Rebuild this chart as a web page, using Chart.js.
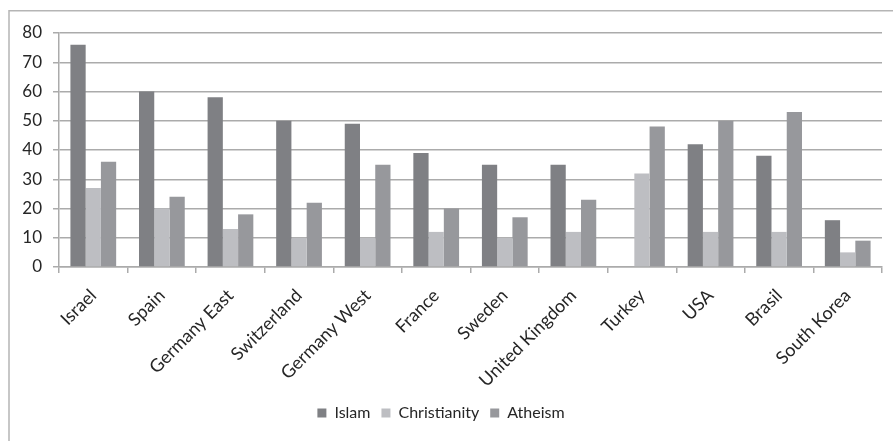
<!DOCTYPE html>
<html>
<head>
<meta charset="utf-8">
<script src="https://cdn.jsdelivr.net/npm/chart.js@4/dist/chart.umd.min.js"></script>
<style>
  html, body { margin: 0; padding: 0; background: #ffffff; }
  #wrap { position: relative; width: 893px; height: 441px; }
  canvas { display: block; }
</style>
</head>
<body>
<div id="wrap"><canvas id="chart" width="893" height="441"></canvas></div>
<script>
// Countries on the category axis
const countries = ['Israel', 'Spain', 'Germany East', 'Switzerland', 'Germany West', 'France',
                   'Sweden', 'United Kingdom', 'Turkey', 'USA', 'Brasil', 'South Korea'];

// Series values per country
const islam        = [76, 60, 58, 50, 49, 39, 35, 35, null, 42, 38, 16];
const christianity = [27, 20, 13, 10, 10, 12, 10, 12, 32, 12, 12, 5];
const atheism      = [36, 24, 18, 22, 35, 20, 17, 23, 48, 50, 53, 9];

// Value axis range
const yMin = 0;
const yMax = 80;
const yStep = 10;

const FONT = 'Lato, "Open Sans", "Liberation Sans", sans-serif';
const TEXT = '#262626';
const GRID = '#ababab';

// Frame around the whole chart
const framePlugin = {
  id: 'frame',
  beforeDraw(chart) {
    const ctx = chart.ctx;
    ctx.save();
    ctx.fillStyle = '#ffffff';
    ctx.fillRect(0, 0, chart.width, chart.height);
    ctx.strokeStyle = '#b5b5b5';
    ctx.lineWidth = 1.5;
    ctx.strokeRect(9, 10.75, chart.width + 20, chart.height + 20);
    ctx.restore();
  }
};

new Chart(document.getElementById('chart'), {
  type: 'bar',
  data: {
    labels: countries,
    datasets: [
      { label: 'Islam',        data: islam,        backgroundColor: '#7f8084' },
      { label: 'Christianity', data: christianity, backgroundColor: '#bdbec2' },
      { label: 'Atheism',      data: atheism,      backgroundColor: '#97989c' }
    ]
  },
  options: {
    responsive: false,
    animation: false,
    devicePixelRatio: 1,
    layout: { padding: { top: 33, right: 11, bottom: 10, left: 0 } },
    datasets: {
      bar: { categoryPercentage: 0.667, barPercentage: 1.0, borderWidth: 0 }
    },
    plugins: {
      tooltip: { enabled: false },
      legend: {
        position: 'bottom',
        labels: {
          boxWidth: 9,
          boxHeight: 9,
          padding: 11,
          color: TEXT,
          font: { family: FONT, size: 16 }
        }
      }
    },
    scales: {
      x: {
        grid: {
          offset: true,
          drawOnChartArea: false,
          drawTicks: true,
          tickLength: 6,
          color: GRID,
          lineWidth: 1.5
        },
        border: { display: true, color: GRID, width: 1.5 },
        ticks: {
          maxRotation: 45,
          minRotation: 45,
          autoSkip: false,
          padding: 12,
          color: TEXT,
          font: { family: FONT, size: 18 }
        },
        afterFit(scale) { scale.height = 127; }
      },
      y: {
        min: yMin,
        max: yMax,
        grid: {
          drawTicks: true,
          tickLength: 6,
          color: GRID,
          lineWidth: 1.5
        },
        border: { display: true, color: GRID, width: 1.5 },
        ticks: {
          stepSize: yStep,
          padding: 11,
          color: TEXT,
          font: { family: FONT, size: 17 }
        },
        afterFit(scale) { scale.width = 59; }
      }
    }
  },
  plugins: [framePlugin]
});
</script>
</body>
</html>
